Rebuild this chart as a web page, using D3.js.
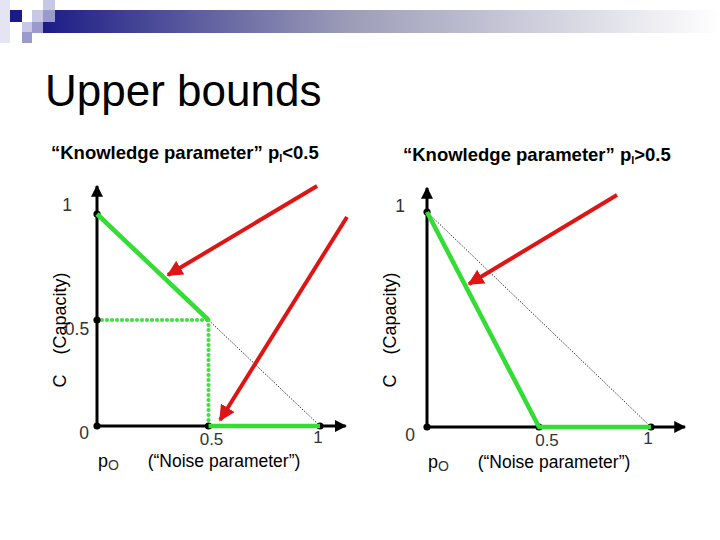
<!DOCTYPE html>
<html><head><meta charset="utf-8">
<script src="https://cdn.jsdelivr.net/npm/d3@7"></script>
<style>
body{margin:0;background:#fff;}
svg{display:block;}
text{font-family:"Liberation Sans",Arial,sans-serif;}
</style></head>
<body>
<script>
// ---- data ----
const panelTitles = ["“Knowledge parameter” p", "“Knowledge parameter” p"];
const titleSuffix = ["<0.5", ">0.5"];
const leftYTicks = [1, 0.5, 0];
const leftYLabels = ["1", "0.5", "0"];
const rightYTicks = [1, 0];
const rightYLabels = ["1", "0"];
const xTickValues = [0.5, 1];
const xTickLabels = ["0.5", "1"];
// left panel (p_l < 0.5)
const leftSolid1 = [[0, 1], [0.5, 0.5]];
const leftDottedH = [[0, 0.5], [0.5, 0.5]];
const leftDottedV = [[0.5, 0.5], [0.5, 0]];
const leftSolid2 = [[0.5, 0], [1, 0]];
const leftRef = [[0.5, 0.5], [1, 0]];
const leftDots = [[0, 1], [0, 0.5], [0, 0], [0.5, 0], [1, 0]];
const leftArrows = [[[0.987, 1.132], [0.318, 0.712]], [[1.121, 0.986], [0.552, 0.028]]];
// right panel (p_l > 0.5)
const rightSolid = [[0, 1], [0.5, 0], [1, 0]];
const rightRef = [[0, 1], [1, 0]];
const rightDots = [[0, 1], [0, 0], [0.5, 0], [1, 0]];
const rightArrows = [[[0.848, 1.079], [0.1875, 0.665]]];

const W = 720, H = 540;
const svg = d3.select("body").append("svg").attr("width", W).attr("height", H);
const defs = svg.append("defs");
const grad = defs.append("linearGradient").attr("id", "band").attr("x1", "0%").attr("x2", "100%");
grad.append("stop").attr("offset", "0%").attr("stop-color", "#1c1c86");
grad.append("stop").attr("offset", "45%").attr("stop-color", "#9c9cb8");
grad.append("stop").attr("offset", "100%").attr("stop-color", "#ffffff");
defs.append("marker").attr("id", "redhead").attr("viewBox", "0 0 10 10").attr("refX", 9).attr("refY", 5)
  .attr("markerWidth", 4).attr("markerHeight", 4).attr("orient", "auto").attr("markerUnits", "strokeWidth")
  .append("path").attr("d", "M0,0 L10,5 L0,10 Z").attr("fill", "#dd1515");
defs.append("marker").attr("id", "blackhead").attr("viewBox", "0 0 10 10").attr("refX", 9).attr("refY", 5)
  .attr("markerWidth", 4).attr("markerHeight", 4).attr("orient", "auto").attr("markerUnits", "strokeWidth")
  .append("path").attr("d", "M0,0 L10,5 L0,10 Z").attr("fill", "#000");

// header decoration
svg.append("rect").attr("x", 43).attr("y", 10).attr("width", 677).attr("height", 23).attr("fill", "url(#band)");
const sq = [
  [0, 0, 10, 43, "#e4e4f2"], [10, 10, 12, 12, "#1a1a88"], [22, 10, 10, 12, "#ffffff"],
  [32, 10, 11, 12, "#c8c8e6"], [43, 0, 12, 10, "#c8c8e6"], [43, 10, 12, 12, "#9a9acc"],
  [22, 22, 10, 10, "#c8c8e6"], [32, 22, 11, 11, "#9a9acc"], [22, 32, 10, 11, "#9a9acc"]
];
svg.selectAll("rect.sq").data(sq).join("rect").attr("class", "sq")
  .attr("x", d => d[0]).attr("y", d => d[1]).attr("width", d => d[2]).attr("height", d => d[3]).attr("fill", d => d[4]);

svg.append("text").attr("x", 45).attr("y", 106).attr("font-size", 44).attr("fill", "#000").text("Upper bounds");

function panel(cfg) {
  const x = d3.scaleLinear().domain([0, 1]).range(cfg.xr);
  const y = d3.scaleLinear().domain([0, 1]).range(cfg.yr);
  const g = svg.append("g");
  const line = d3.line().x(d => x(d[0])).y(d => y(d[1]));
  // title
  const t = g.append("text").attr("x", cfg.titleX).attr("y", cfg.titleY).attr("font-size", 18.5).attr("font-weight", "bold");
  t.append("tspan").text(cfg.title);
  t.append("tspan").attr("font-size", 11).attr("dy", 3).text("l");
  t.append("tspan").attr("dy", -3).text(cfg.suffix);
  // axes
  g.append("line").attr("x1", x(0)).attr("y1", y(0)).attr("x2", x(0)).attr("y2", y(cfg.yTop))
    .attr("stroke", "#000").attr("stroke-width", 3).attr("marker-end", "url(#blackhead)");
  g.append("line").attr("x1", x(0)).attr("y1", y(0)).attr("x2", x(cfg.xEnd)).attr("y2", y(0))
    .attr("stroke", "#000").attr("stroke-width", 3).attr("marker-end", "url(#blackhead)");
  // reference diagonal
  g.append("path").attr("d", line(cfg.ref)).attr("fill", "none").attr("stroke", "#000")
    .attr("stroke-width", 0.8).attr("stroke-dasharray", "1.5 1.5");
  // dotted green
  (cfg.dotted || []).forEach(seg => {
    g.append("path").attr("d", line(seg)).attr("fill", "none").attr("stroke", "#44dd44")
      .attr("stroke-width", 4.2).attr("stroke-linecap", "round").attr("stroke-dasharray", "0 5");
  });
  // dots
  g.selectAll("circle.pt").data(cfg.dots).join("circle").attr("class", "pt")
    .attr("cx", d => x(d[0])).attr("cy", d => y(d[1])).attr("r", 3.6).attr("fill", "#000");
  // solid green
  cfg.solid.forEach(seg => {
    g.append("path").attr("d", line(seg)).attr("fill", "none").attr("stroke", "#33dd33")
      .attr("stroke-width", 4.5).attr("stroke-linejoin", "round");
  });
  // y ticks
  cfg.yTicks.forEach((v, i) => {
    const o = cfg.yOff[i];
    g.append("text").attr("x", x(0) + o[0]).attr("y", y(v) + o[1]).attr("font-size", 17.5)
      .attr("fill", "#333").attr("text-anchor", "middle").attr("dominant-baseline", "middle").text(cfg.yLabels[i]);
  });
  xTickValues.forEach((v, i) => {
    const o = cfg.xOff[i];
    g.append("text").attr("x", x(v) + o[0]).attr("y", y(0) + o[1]).attr("font-size", 17)
      .attr("fill", "#333").attr("text-anchor", "middle").attr("dominant-baseline", "middle").text(xTickLabels[i]);
  });
  // axis titles
  const p = g.append("text").attr("x", x(0) + 1).attr("y", y(0) + 41).attr("font-size", 18).attr("fill", "#000");
  p.append("tspan").text("p");
  p.append("tspan").attr("font-size", 14).attr("dy", 3).attr("fill", "#333").text("O");
  g.append("text").attr("x", cfg.noiseX).attr("y", y(0) + 41).attr("font-size", 17.5).attr("text-anchor", "middle")
    .attr("fill", "#000").text("(“Noise parameter”)");
  g.append("text").attr("transform", `translate(${cfg.cLabelX},330) rotate(-90)`).attr("font-size", 18)
    .attr("text-anchor", "middle").attr("fill", "#000").style("white-space", "pre").text("C    (Capacity)");
  // red arrows
  cfg.arrows.forEach(a => {
    g.append("path").attr("d", line(a)).attr("fill", "none").attr("stroke", "#dd1515")
      .attr("stroke-width", 4).attr("marker-end", "url(#redhead)");
  });
}

panel({
  xr: [97, 320], yr: [426, 214], title: panelTitles[0], suffix: titleSuffix[0], titleX: 51, titleY: 159,
  yTop: 1.132, xEnd: 1.115, ref: leftRef, dotted: [leftDottedH, leftDottedV], dots: leftDots,
  solid: [leftSolid1, leftSolid2], arrows: leftArrows, yTicks: leftYTicks, yLabels: leftYLabels,
  yOff: [[-30, -8], [-20, 10], [-13, 8]], xOff: [[3, 15], [-2, 13]], noiseX: 224, cLabelX: 66
});
panel({
  xr: [427, 651], yr: [427, 212], title: panelTitles[1], suffix: titleSuffix[1], titleX: 403, titleY: 161,
  yTop: 1.112, xEnd: 1.152, ref: rightRef, dots: rightDots,
  solid: [rightSolid], arrows: rightArrows, yTicks: rightYTicks, yLabels: rightYLabels,
  yOff: [[-27, -5], [-17, 9]], xOff: [[8, 15], [-3, 13]], noiseX: 554, cLabelX: 396
});
</script>
</body></html>
